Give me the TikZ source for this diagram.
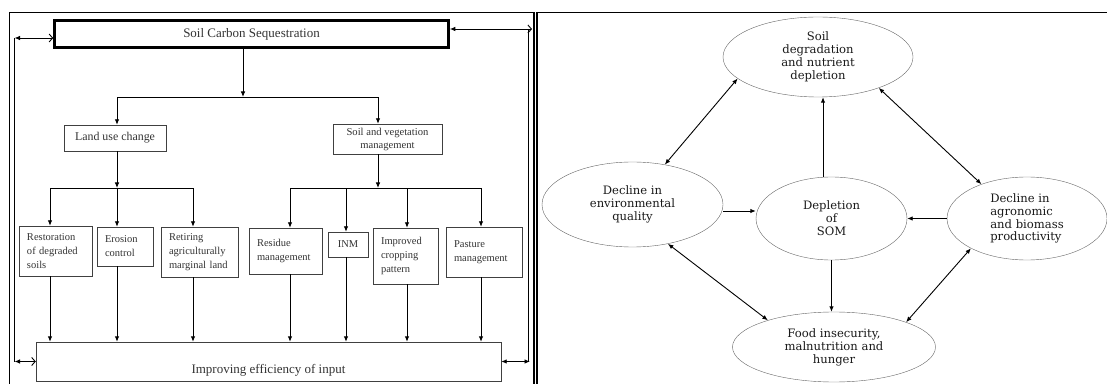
\documentclass[tikz,border=0pt]{standalone}
\usepackage{fontspec}
\setmainfont{Liberation Serif}
\newfontfamily\ovalfont{DejaVu Serif}
\usepackage{tikz}
\usetikzlibrary{arrows.meta}
\usetikzlibrary{shapes,calc}
\tikzset{box/.style={draw=black!75, thin, align=left, inner xsep=8pt, text=black!80, font=\fontsize{10.5}{14}\selectfont}}
\tikzset{midbox/.style={draw=black!75, thin, align=center, text=black!80, font=\fontsize{10.6}{13}\selectfont}}
\tikzset{oval/.style={draw=black!60, ellipse, inner sep=0pt, align=center, text=black!90, font=\ovalfont\fontsize{11.6}{12.9}\selectfont}}
\tikzset{frame/.style={draw, line width=1.3pt}}
\tikzset{line/.style={draw, line width=0.9pt, -{Latex[length=5.5pt,width=4.5pt]}}}
\tikzset{twoway/.style={draw, line width=0.9pt, {Latex[length=5.5pt,width=4.5pt]}-{Latex[length=5.5pt,width=4.5pt]}}}
\tikzset{back/.style={draw, line width=0.9pt, {Latex[length=5.5pt,width=4.5pt]}-{Straight Barb[length=3.5pt,width=8pt]}}}

\begin{document}
\begin{tikzpicture}[x=1pt,y=1pt]
				\clip (0,0) rectangle (1107,383);
				\draw [frame] (9.5,-5) rectangle (534,370.3);
				\draw [frame] (537,-5) rectangle (1115,370.3);
				% left panel
				\node [draw, line width=2.6pt, minimum width=394pt, minimum height=27pt, text=black!80, font=\fontsize{13}{15}\selectfont] (scs) at (251.5,348.7) {Soil Carbon Sequestration};
				\node [midbox, minimum width=102pt, minimum height=26pt, font=\fontsize{11.9}{14}\selectfont] (luc) at (115,245) {Land use change};
				\node [midbox, minimum width=109pt, minimum height=30pt] (svm) at (387.5,244) {Soil and vegetation\\ management};
				\node [box, text width=57pt, minimum height=50pt] (rds) at (55.5,132) {Restoration\\ of degraded\\ soils};
				\node [box, text width=40pt, minimum height=39pt] (ero) at (125,136.5) {Erosion\\ control};
				\node [box, text width=61pt, minimum height=50pt] (ram) at (199.5,131) {Retiring\\ agriculturally\\ marginal land};
				\node [box, text width=57pt, minimum height=46pt] (res) at (285.5,132) {Residue\\ management};
				\node [box, align=center, inner xsep=3pt, minimum width=40pt, minimum height=25pt] (inm) at (348,138.5) {INM};
				\node [box, text width=49pt, minimum height=56pt] (icp) at (405.5,127) {Improved\\ cropping\\ pattern};
				\node [box, text width=60pt, minimum height=50pt] (pam) at (484,131) {Pasture\\ management};
				\node [draw=black!75, thin, minimum width=465pt, minimum height=39pt, text height=26pt, text depth=3pt, text=black!80, font=\fontsize{13}{15}\selectfont] (iei) at (268.5,21.5) {Improving efficiency of input};
				%
				\coordinate (b0) at (243,286);
				\coordinate (b1) at (117,195);
				\coordinate (b2) at (378,195);
				\coordinate (c1) at (50,195);
				\coordinate (c2) at (117,195);
				\coordinate (c3) at (193,195);
				\coordinate (c4) at (290,195);
				\coordinate (c5) at (346,195);
				\coordinate (c6) at (407,195);
				\coordinate (c7) at (481,195);
				\coordinate (f1) at (14.5,345);
				\coordinate (f2) at (14.5,21.5);
				\coordinate (f3) at (528,354);
				\coordinate (f4) at (528,21.5);
				%
				\path [line] (scs.south -| b0) -- (b0);
				\path [line] (b0) -| (b1 |- luc.north);
				\path [line] (b0) -| (b2 |- svm.north);
				\path [line] (b1 |- luc.south) -- (b1);
				\path [line] (b2 |- svm.south) -- (b2);
				\path [line] (b1) -| (c1 |- rds.north);
				\path [line] (b1) -- (c2 |- ero.north);
				\path [line] (b1) -| (c3 |- ram.north);
				\path [line] (b2) -| (c4 |- res.north);
				\path [line] (b2) -| (c5 |- inm.north);
				\path [line] (b2) -| (c6 |- icp.north);
				\path [line] (b2) -| (c7 |- pam.north);
				\path [line] (c1 |- rds.south) -- (c1 |- iei.north);
				\path [line] (c2 |- ero.south) -- (c2 |- iei.north);
				\path [line] (c3 |- ram.south) -- (c3 |- iei.north);
				\path [line] (c4 |- res.south) -- (c4 |- iei.north);
				\path [line] (c5 |- inm.south) -- (c5 |- iei.north);
				\path [line] (c6 |- icp.south) -- (c6 |- iei.north);
				\path [line] (c7 |- pam.south) -- (c7 |- iei.north);
				%
				\draw [line width=0.9pt] (f1) -- (f2);
				\draw [line width=0.9pt] (f3) -- (f4);
				\path [back] (f1) -- (f1 -| scs.west);
				\path [back] (f2) -- (iei.west);
				\path [back] (f3 -| scs.east) -- ($(f3)+(4,0)$);
				\path [twoway] (iei.east) -- ($(f4)+(2,0)$);
				% right panel
				\node [oval, minimum width=190pt, minimum height=80pt] (sdn) at (818,326) {Soil\\ degradation\\ and nutrient\\ depletion};
				\node [oval, minimum width=181pt, minimum height=85pt] (dev) at (632.5,178.5) {Decline in\\ environmental\\ quality};
				\node [oval, minimum width=151pt, minimum height=83pt] (som) at (831.5,164.5) {Depletion\\ of\\ SOM};
				\node [oval, align=left, minimum width=160pt, minimum height=83pt] (dab) at (1027,164.5) {Decline in\\ agronomic\\ and biomass\\ productivity};
				\node [oval, minimum width=203pt, minimum height=70pt] (fim) at (834,36) {Food insecurity,\\ malnutrition and\\ hunger};
				%
				\path [twoway] (dev.51) -- (sdn.195);
				\path [twoway] (sdn.333) -- (dab.143);
				\path [twoway] (dev.312) -- (fim.158);
				\path [twoway] (dab.208) -- (fim.19);
				\path [line] ([xshift=-8.5pt]som.north) -- ([xshift=-8.5pt]som.north |- sdn.south);
				\path [line] ([yshift=-6.5pt]dev.east) -- ([yshift=7.5pt]som.west);
				\path [line] (dab.west) -- (som.east);
				\path [line] (som.south) -- (som.south |- fim.north);
\end{tikzpicture}
\end{document}
